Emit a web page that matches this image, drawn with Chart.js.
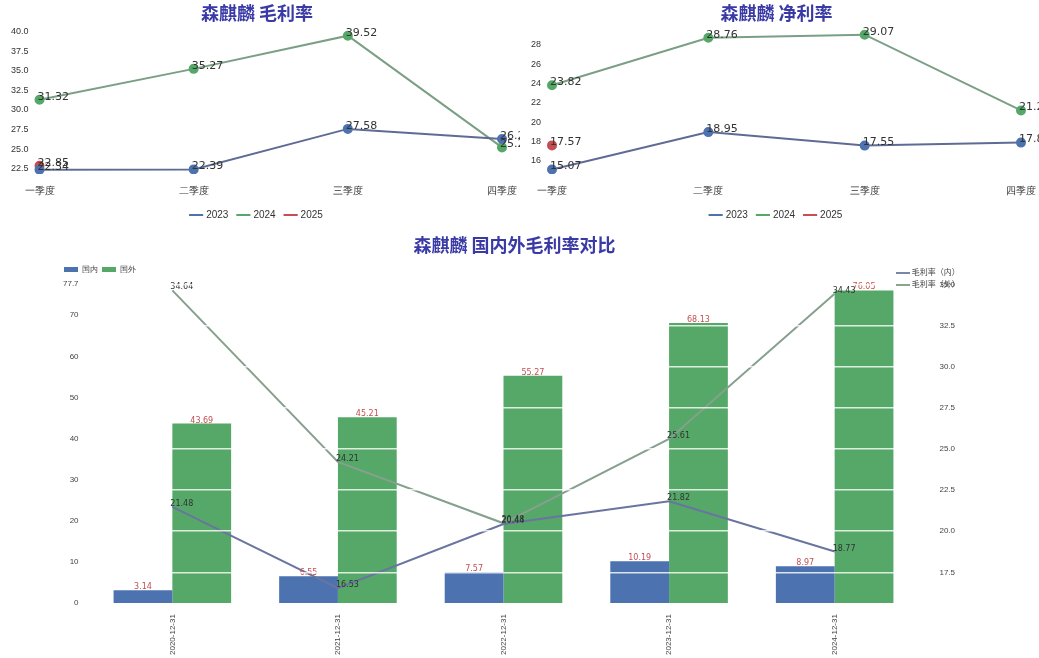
<!DOCTYPE html>
<html><head><meta charset="utf-8">
<script src="https://cdn.jsdelivr.net/npm/chart.js@4"></script>
<style>
body{margin:0;background:#fff;font-family:"Noto Sans CJK SC",sans-serif;}
canvas{position:absolute;}
#lg{position:absolute;left:896px;top:266px;font-size:8px;color:#444;line-height:12px;}
</style></head><body>
<canvas id="c1" width="520" height="230" style="left:0;top:0;width:520px;height:230px"></canvas>
<canvas id="c2" width="519" height="230" style="left:520px;top:0;width:519px;height:230px"></canvas>
<canvas id="c3" width="1039" height="426" style="left:0;top:232px;width:1039px;height:426px"></canvas>
<div id="lg"><span style="display:inline-block;width:14px;border-top:2px solid #7a86a8;vertical-align:middle"></span> 毛利率（内）<br><span style="display:inline-block;width:14px;border-top:2px solid #8aa58e;vertical-align:middle"></span> 毛利率（外）</div>
<script>
const quarters=['一季度','二季度','三季度','四季度'];
const gm2023=[22.34,22.39,27.58,26.29];
const gm2024=[31.32,35.27,39.52,25.21];
const gm2025=[22.85,null,null,null];
const nm2023=[15.07,18.95,17.55,17.86];
const nm2024=[23.82,28.76,29.07,21.20];
const nm2025=[17.57,null,null,null];
const years=['2020-12-31','2021-12-31','2022-12-31','2023-12-31','2024-12-31'];
const domRev=[3.14,6.55,7.57,10.19,8.97];
const forRev=[43.69,45.21,55.27,68.13,76.05];
const domGM=[21.48,16.53,20.44,21.82,18.77];
const forGM=[34.64,24.21,20.48,25.61,34.43];
const gmTicks=[22.5,25,27.5,30,32.5,35,37.5,40];
const nmTicks=[16,18,20,22,24,26,28];
const rTicks=[17.5,20,22.5,25,27.5,30,32.5,35];

const BLUE='#4c72b0',GREEN='#55a868',RED='#c44e52',TITLE='#3a3aa6';
const labels={id:'lbl',afterDatasetsDraw(ch){const c=ch.ctx;ch.data.datasets.forEach((d,i)=>{const m=ch.getDatasetMeta(i);if(m.hidden)return;m.data.forEach((el,j)=>{const v=d.data[j];if(v==null)return;c.save();c.font=(d.lblSize||11)+'px "DejaVu Sans"';c.fillStyle=d.lblColor||'#333';c.textAlign=d.type==='bar'?'center':'left';c.fillText(v.toFixed(2),el.x+(d.type==='bar'?0:-2),el.y-3);c.restore();});});}};
function lineDs(l,data,col){return {label:l,data,borderColor:col==GREEN?'#7a9f84':col==BLUE?'#5f6b94':col,backgroundColor:col,pointBackgroundColor:col,pointBorderColor:col,pointRadius:4,borderWidth:2,lblColor:'#333'};}
function quarterChart(id,title,a,b,c,ticks,min,max){
 new Chart(document.getElementById(id),{type:'line',data:{labels:quarters,datasets:[lineDs('2023',a,BLUE),lineDs('2024',b,GREEN),lineDs('2025',c,RED)]},
 options:{responsive:false,animation:false,layout:{padding:{right:14,left:8}},
 plugins:{title:{display:true,text:title,color:TITLE,font:{size:18,weight:'bold',family:'"Noto Sans CJK SC"'},padding:{top:2,bottom:6}},
 legend:{position:'bottom',labels:{usePointStyle:true,pointStyle:'line',boxWidth:24,color:'#333',font:{size:10}}}},
 scales:{x:{offset:false,grid:{display:false},border:{display:false},ticks:{color:'#333',font:{size:10}}},
 y:{min,max,grid:{display:false},border:{display:false},afterBuildTicks:ax=>{ax.ticks=ticks.map(v=>({value:v}));},ticks:{color:'#333',font:{size:9},callback:v=>ticks===gmTicks?v.toFixed(1):v}}}},plugins:[labels]});
}
quarterChart('c1','森麒麟 毛利率',gm2023,gm2024,gm2025,gmTicks,21.8,40.3);
quarterChart('c2','森麒麟 净利率',nm2023,nm2024,nm2025,nmTicks,14.6,29.6);
new Chart(document.getElementById('c3'),{data:{labels:years,datasets:[
 {type:'bar',label:'国内',data:domRev,backgroundColor:BLUE,yAxisID:'y',lblColor:RED,lblSize:8,order:2},
 {type:'bar',label:'国外',data:forRev,backgroundColor:GREEN,yAxisID:'y',lblColor:RED,lblSize:8,order:2},
 {type:'line',label:'毛利率（内）',data:domGM,borderColor:'#6a74a0',pointRadius:0,borderWidth:2,yAxisID:'y1',lblSize:8,order:1},
 {type:'line',label:'毛利率（外）',data:forGM,borderColor:'#86a08e',pointRadius:0,borderWidth:2,yAxisID:'y1',lblSize:8,order:1}]},
 options:{responsive:false,animation:false,layout:{padding:{left:60,right:70}},
 datasets:{bar:{categoryPercentage:0.71,barPercentage:1.0}},
 plugins:{title:{display:true,text:'森麒麟 国内外毛利率对比',color:TITLE,font:{size:18,weight:'bold',family:'"Noto Sans CJK SC"'},padding:{top:2,bottom:6}},
 legend:{position:'top',align:'start',labels:{filter:i=>i.datasetIndex<2,boxWidth:14,boxHeight:5,color:'#444',font:{size:8},padding:4}}},
 scales:{x:{grid:{display:false},border:{display:false},ticks:{color:'#444',font:{size:8},maxRotation:90,minRotation:90}},
 y:{min:0,max:77.7,grid:{display:false},border:{display:false},ticks:{stepSize:10,color:'#444',font:{size:8}}},
 y1:{position:'right',min:15.63,max:35.05,grid:{color:'rgba(255,255,255,0.8)',lineWidth:1.5,z:1},border:{display:false},afterBuildTicks:ax=>{ax.ticks=rTicks.map(v=>({value:v}));},ticks:{color:'#444',font:{size:8},padding:14,callback:v=>v.toFixed(1)}}}},plugins:[labels]});
</script></body></html>
